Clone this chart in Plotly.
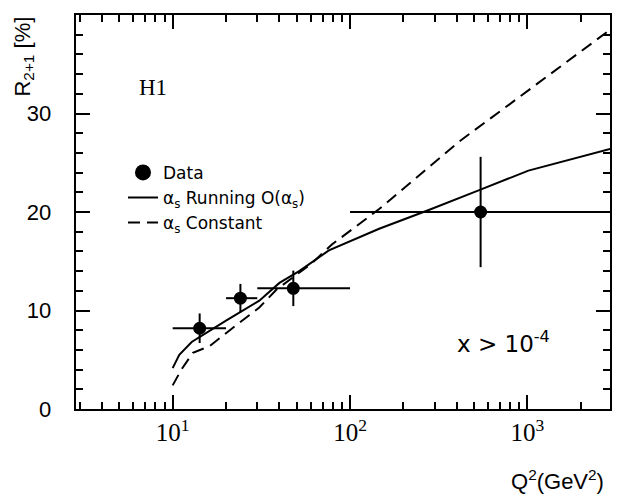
import plotly.graph_objects as go

# ---- data ----
q2_data = [14.2, 24.1, 47.9, 545.0]
r_data = [8.2, 11.25, 12.25, 20.0]
q2_lo = [10.0, 20.0, 30.0, 100.0]
q2_hi = [20.0, 30.0, 100.0, 3000.0]
r_err = [1.5, 1.45, 1.8, 5.6]

q2_run = [10.0, 10.9, 12.8, 14.7, 20.1, 30.8, 40.0, 51.7, 76.0, 146.0, 278.0, 531.0, 1014.0, 2926.0]
r_run = [4.15, 5.5, 6.8, 7.5, 9.0, 11.0, 12.8, 14.0, 16.1, 18.3, 20.2, 22.2, 24.2, 26.4]

q2_const = [10.0, 11.2, 13.0, 16.2, 21.7, 30.8, 38.4, 61.0, 79.0, 146.0, 409.0, 531.0, 2926.0]
r_const = [2.4, 4.0, 5.7, 6.4, 8.2, 10.3, 12.1, 14.8, 16.7, 20.3, 27.1, 28.6, 38.5]

x_tickvals = [10, 100, 1000]
x_ticktext = ["10<sup>1</sup>", "10<sup>2</sup>", "10<sup>3</sup>"]
y_tickvals = [0, 10, 20, 30]
y_ticktext = [f"{v}\u00a0\u00a0\u00a0" for v in y_tickvals]

err_plus = [h - x for h, x in zip(q2_hi, q2_data)]
err_minus = [x - l for l, x in zip(q2_lo, q2_data)]
x_minor = [m * 10 ** e for e in range(0, 4) for m in range(2, 10) if 2.8 < m * 10 ** e < 2950]

fig = go.Figure()
fig.add_trace(go.Scatter(
    x=[None], y=[None], mode="markers", name="Data",
    marker=dict(color="black", size=16), showlegend=True))
fig.add_trace(go.Scatter(
    x=q2_run, y=r_run, mode="lines", name="α<sub>s</sub> Running O(α<sub>s</sub>)",
    line=dict(color="black", width=2), showlegend=True))
fig.add_trace(go.Scatter(
    x=q2_const, y=r_const, mode="lines", name="α<sub>s</sub> Constant",
    line=dict(color="black", width=2, dash="12px,7px"), showlegend=True))
fig.add_trace(go.Scatter(
    x=q2_data, y=r_data, mode="markers", showlegend=False,
    marker=dict(color="black", size=13),
    error_x=dict(type="data", symmetric=False, array=err_plus, arrayminus=err_minus,
                 color="black", thickness=2, width=0),
    error_y=dict(type="data", array=r_err, color="black", thickness=2, width=0)))

fig.update_layout(
    width=624, height=496,
    margin=dict(l=76, r=12, t=15, b=87),
    paper_bgcolor="white", plot_bgcolor="white",
    font=dict(family="Liberation Sans", color="black"),
    legend=dict(x=0.088, y=0.645, xanchor="left", yanchor="top",
                traceorder="normal", font=dict(size=17, family="DejaVu Sans"),
                bgcolor="rgba(0,0,0,0)", tracegroupgap=0),
    xaxis=dict(type="log", range=[0.455, 3.466], showgrid=False, zeroline=False,
               showline=True, linecolor="black", linewidth=2, mirror="allticks",
               ticks="inside", ticklen=14, tickwidth=2, tickcolor="black",
               tickmode="array", tickvals=x_tickvals, ticktext=x_ticktext,
               tickfont=dict(family="Liberation Serif", size=25),
               minor=dict(tickmode="array", tickvals=x_minor, ticks="inside",
                          ticklen=7, tickwidth=2, tickcolor="black", showgrid=False)),
    yaxis=dict(range=[0, 40], showgrid=False, zeroline=False,
               showline=True, linecolor="black", linewidth=2, mirror="allticks",
               ticks="inside", ticklen=14, tickwidth=2, tickcolor="black",
               tickmode="array", tickvals=y_tickvals, ticktext=y_ticktext,
               tickfont=dict(family="Liberation Sans", size=22),
               minor=dict(dtick=2, ticks="inside", ticklen=7, tickwidth=2,
                          tickcolor="black", showgrid=False)),
    annotations=[
        dict(text="R<sub>2+1</sub> [%]", x=-0.097, y=0.895, xref="paper", yref="paper",
             xanchor="center", yanchor="middle",
             textangle=-90, showarrow=False, font=dict(size=22, family="Liberation Sans")),
        dict(text="H1", x=0.144, y=0.815, xref="paper", yref="paper",
             xanchor="center", yanchor="middle",
             showarrow=False, font=dict(size=23, family="Liberation Serif")),
        dict(text="x > 10<sup>-4</sup>", x=0.80, y=0.17, xref="paper", yref="paper",
             xanchor="center", yanchor="middle",
             showarrow=False, font=dict(size=23, family="DejaVu Sans")),
        dict(text="Q<sup>2</sup>(GeV<sup>2</sup>)", x=0.993, y=-0.18, xref="paper", yref="paper",
             xanchor="right", yanchor="middle",
             showarrow=False, font=dict(size=22, family="Liberation Sans")),
    ],
)

fig.write_html("out.html")
